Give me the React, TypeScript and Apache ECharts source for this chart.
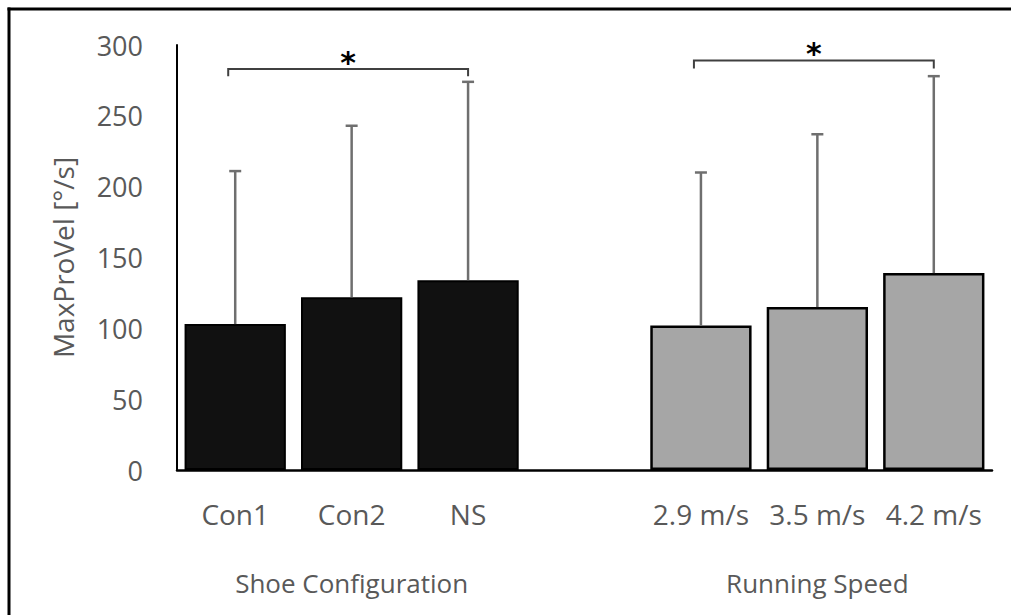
import React, { useEffect, useRef } from "react";
import * as echarts from "echarts";

// Categories along the x axis; the blank slot separates the two groups.
const categories = ["Con1", "Con2", "NS", "", "2.9 m/s", "3.5 m/s", "4.2 m/s"];
// Group names shown under the middle bar of each group.
const groupLabels = ["", "Shoe Configuration", "", "", "", "Running Speed", ""];
// Mean MaxProVel per condition (°/s).
const means: (number | null)[] = [103, 122, 134, null, 102, 115, 139];
// Standard deviations (upper error bars only).
const sds: (number | null)[] = [108, 121, 140, null, 108, 122, 139];
// Bar fill per condition.
const fills = ["#111111", "#111111", "#111111", "#ffffff", "#a6a6a6", "#a6a6a6", "#a6a6a6"];
// Significance brackets: [first index, last index, bracket height, drop length].
const brackets: number[][] = [
  [0, 2, 283, 5],
  [4, 6, 289, 5.5],
];
// Y axis tick range.
const yMin = 0;
const yMax = 300;
const yStep = 50;

export default function App() {
  const ref = useRef<HTMLDivElement>(null);

  useEffect(() => {
    if (!ref.current) return;
    const chart = echarts.init(ref.current, undefined, { renderer: "svg" });

    const barData = means.map((v, i) =>
      v == null
        ? "-"
        : {
            value: v,
            itemStyle: {
              color: fills[i],
              borderColor: "#000",
              borderWidth: i < 3 ? 2 : 2.5,
            },
          }
    );

    const errData = means
      .map((m, i) => (m == null || sds[i] == null ? null : [i, m, (m as number) + (sds[i] as number)]))
      .filter((d) => d != null);

    chart.setOption({
      animation: false,
      backgroundColor: "#ffffff",
      textStyle: { fontFamily: "Open Sans" },
      grid: { left: 177, right: 19, top: 45, bottom: 145, containLabel: false },
      xAxis: [
        {
          type: "category",
          data: categories,
          axisLine: { show: true, lineStyle: { color: "#000", width: 2.5 } },
          axisTick: { show: false },
          axisLabel: {
            interval: 0,
            color: "#595959",
            fontSize: 28,
            margin: 30,
          },
        },
        {
          type: "category",
          position: "bottom",
          data: categories,
          axisLine: { show: false },
          axisTick: { show: false },
          axisLabel: {
            interval: 0,
            color: "#595959",
            fontSize: 26,
            margin: 100,
            formatter: (_v: string, i: number) => groupLabels[i],
          },
        },
      ],
      yAxis: {
        type: "value",
        min: yMin,
        max: yMax,
        interval: yStep,
        name: "MaxProVel [°/s]",
        nameLocation: "middle",
        nameGap: 100,
        nameRotate: 90,
        nameTextStyle: { color: "#595959", fontSize: 28 },
        axisLine: { show: true, lineStyle: { color: "#000", width: 2 } },
        axisTick: { show: false },
        splitLine: { show: false },
        axisLabel: { color: "#595959", fontSize: 27, margin: 34 },
      },
      series: [
        {
          type: "bar",
          data: barData,
          barCategoryGap: "13%",
          z: 2,
        },
        {
          type: "custom",
          z: 3,
          clip: false,
          encode: { x: 0, y: [1, 2] },
          data: errData,
          renderItem: (_params: any, api: any) => {
            const x = api.value(0);
            const base = api.coord([x, api.value(1)]);
            const top = api.coord([x, api.value(2)]);
            const cap = 6;
            const style = { stroke: "#6f6f6f", lineWidth: 2.5 };
            return {
              type: "group",
              children: [
                { type: "line", shape: { x1: base[0], y1: base[1], x2: top[0], y2: top[1] }, style },
                { type: "line", shape: { x1: top[0] - cap, y1: top[1], x2: top[0] + cap, y2: top[1] }, style },
              ],
            };
          },
        },
        {
          type: "custom",
          z: 4,
          clip: false,
          encode: { x: [0, 1], y: 2 },
          data: brackets,
          renderItem: (_params: any, api: any) => {
            const a = api.value(0);
            const b = api.value(1);
            const h = api.value(2);
            const d = api.value(3);
            const p1 = api.coord([a, h]);
            const p2 = api.coord([b, h]);
            const low = api.coord([a, h - d])[1];
            return {
              type: "group",
              children: [
                {
                  type: "polyline",
                  shape: {
                    points: [
                      [p1[0] - 7, low],
                      [p1[0] - 7, p1[1]],
                      [p2[0], p2[1]],
                      [p2[0], low],
                    ],
                  },
                  style: { stroke: "#404040", lineWidth: 2, fill: null },
                },
                {
                  type: "text",
                  x: (p1[0] - 7 + p2[0]) / 2,
                  y: p1[1] - 7,
                  style: {
                    text: "*",
                    fill: "#000",
                    fontSize: 30,
                    fontWeight: "bold",
                    fontFamily: "DejaVu Sans",
                    textAlign: "center",
                    textVerticalAlign: "middle",
                  },
                },
              ],
            };
          },
        },
      ],
      graphic: [
        { type: "line", shape: { x1: 9, y1: 7.5, x2: 9, y2: 615 }, style: { stroke: "#000", lineWidth: 3 } },
        { type: "line", shape: { x1: 7.5, y1: 9, x2: 1011, y2: 9 }, style: { stroke: "#000", lineWidth: 3 } },
      ],
    });

    return () => chart.dispose();
  }, []);

  return (
    <div
      ref={ref}
      style={{ position: "fixed", left: 0, top: 0, width: 1011, height: 615 }}
    />
  );
}
